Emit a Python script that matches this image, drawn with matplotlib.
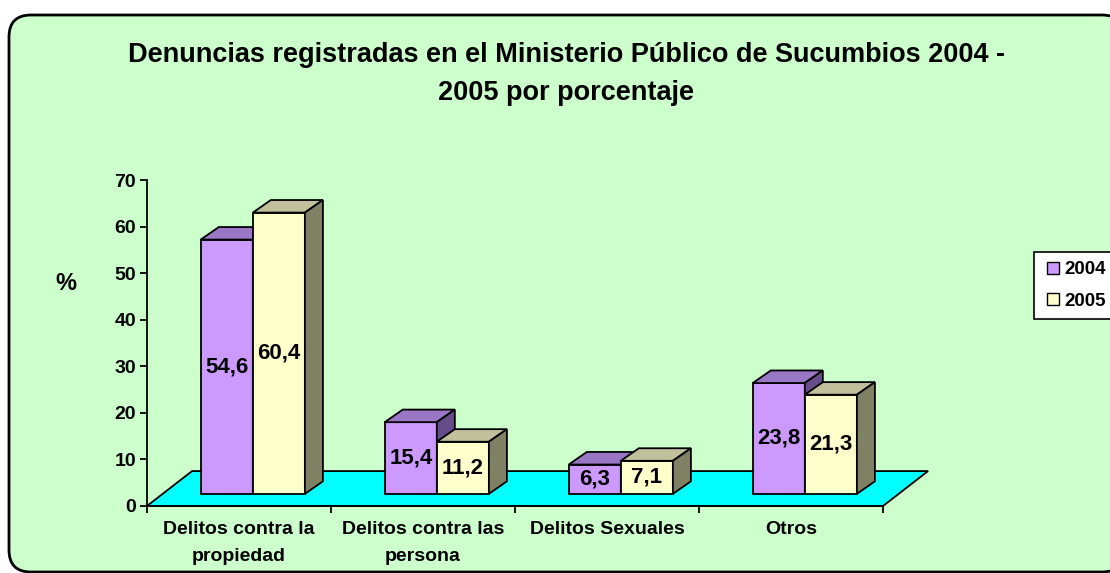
import matplotlib.pyplot as plt
from matplotlib.patches import Polygon, FancyBboxPatch
from matplotlib.lines import Line2D

categorias = ["Delitos contra la\npropiedad", "Delitos contra las\npersona",
              "Delitos Sexuales", "Otros"]
valores_2004 = [54.6, 15.4, 6.3, 23.8]
valores_2005 = [60.4, 11.2, 7.1, 21.3]
etiquetas_2004 = ["54,6", "15,4", "6,3", "23,8"]
etiquetas_2005 = ["60,4", "11,2", "7,1", "21,3"]
anios = ["2004", "2005"]

plt.rcParams['font.family'] = ['Liberation Sans', 'DejaVu Sans']
plt.rcParams['font.weight'] = 'bold'

fig = plt.figure(figsize=(11.1, 5.73), dpi=100)
fig.patch.set_facecolor("white")

# marco redondeado del grafico (coordenadas en pixeles)
marco = FancyBboxPatch((9, 1), 1115, 557, boxstyle="round,pad=0,rounding_size=22",
                       transform=None, facecolor="#CCFFCC", edgecolor="black",
                       linewidth=2, zorder=-5)
fig.patches.append(marco)

ax = fig.add_axes([147 / 1110, 67 / 573, 736 / 1110, 326 / 573])
ax.set_facecolor("none")
ax.set_xlim(-0.5, 3.5)
ax.set_ylim(0, 70)

# profundidades (efecto 3D)
suelo_dx, suelo_dy = 0.245, 7.5
base_dx, base_dy = 0.075, 2.6
barra_dx, barra_dy = 0.098, 2.7
ancho = 0.283

suelo = Polygon([(-0.5, 0), (3.5, 0), (3.5 + suelo_dx, suelo_dy), (-0.5 + suelo_dx, suelo_dy)],
                closed=True, facecolor="#00FFFF", edgecolor="black", linewidth=1.3,
                zorder=1, clip_on=False)
ax.add_patch(suelo)

colores = {
    "2004": ("#CC99FF", "#9977C4", "#664C88"),
    "2005": ("#FFFFCC", "#C0C09C", "#808064"),
}


def barra(x0, v, cols, z):
    frente, arriba, lado = cols
    y0 = base_dy
    y1 = base_dy + v
    x1 = x0 + ancho
    ax.bar(x0, v, width=ancho, bottom=y0, align="edge", color=frente,
           edgecolor="black", linewidth=1.3, zorder=z)
    ax.add_patch(Polygon([(x0, y1), (x1, y1), (x1 + barra_dx, y1 + barra_dy),
                          (x0 + barra_dx, y1 + barra_dy)], closed=True,
                         facecolor=arriba, edgecolor="black", linewidth=1.3, zorder=z))
    ax.add_patch(Polygon([(x1, y0), (x1 + barra_dx, y0 + barra_dy),
                          (x1 + barra_dx, y1 + barra_dy), (x1, y1)], closed=True,
                         facecolor=lado, edgecolor="black", linewidth=1.3, zorder=z))


for i in range(len(categorias)):
    x_a = i + base_dx - ancho
    x_b = i + base_dx
    barra(x_a, valores_2004[i], colores["2004"], 2 + i)
    barra(x_b, valores_2005[i], colores["2005"], 2.5 + i)
    ax.text(x_a + ancho / 2, base_dy + valores_2004[i] / 2, etiquetas_2004[i],
            ha="center", va="center", fontsize=16, fontweight="bold", zorder=10)
    ax.text(x_b + ancho / 2, base_dy + valores_2005[i] / 2, etiquetas_2005[i],
            ha="center", va="center", fontsize=16, fontweight="bold", zorder=10)

ax.spines["top"].set_visible(False)
ax.spines["right"].set_visible(False)
ax.spines["left"].set_linewidth(1.3)
ax.spines["bottom"].set_linewidth(1.3)
ax.spines["bottom"].set_zorder(1.5)

ax.set_yticks(range(0, 71, 10))
ax.tick_params(axis="y", direction="out", length=5, width=1.3, labelsize=14, pad=3)
ax.set_xticks([-0.5, 0.5, 1.5, 2.5, 3.5])
ax.set_xticklabels([])
ax.tick_params(axis="x", which="major", direction="out", length=5, width=1.3)
ax.set_xticks(range(len(categorias)), minor=True)
ax.set_xticklabels(categorias, minor=True, fontsize=14, fontweight="bold", linespacing=1.75)
ax.tick_params(axis="x", which="minor", length=0, pad=11)
for t in ax.get_yticklabels():
    t.set_fontweight("bold")

fig.text(66 / 1110, 1 - 284 / 573, "%", fontsize=17, fontweight="bold",
         ha="center", va="center")

fig.text(566 / 1110, 1 - 74 / 573,
         "Denuncias registradas en el Ministerio Público de Sucumbios 2004 -\n2005 por porcentaje",
         fontsize=19.5, fontweight="bold", ha="center", va="center", linespacing=1.55)

manejadores = [Line2D([], [], marker="s", linestyle="none", markersize=9,
                      markerfacecolor=colores[a][0], markeredgecolor="black",
                      markeredgewidth=1) for a in anios]
leg = fig.legend(manejadores, anios, loc="upper left",
                 bbox_to_anchor=(1034 / 1110, 1 - 252 / 573), frameon=True,
                 fancybox=False, edgecolor="black", framealpha=1, borderaxespad=0,
                 prop={"size": 13.5, "weight": "bold"}, handletextpad=0.1,
                 handlelength=1.0, borderpad=0.5, labelspacing=0.75)
leg.get_frame().set_linewidth(1.2)

fig.savefig("out.png", dpi=100)
